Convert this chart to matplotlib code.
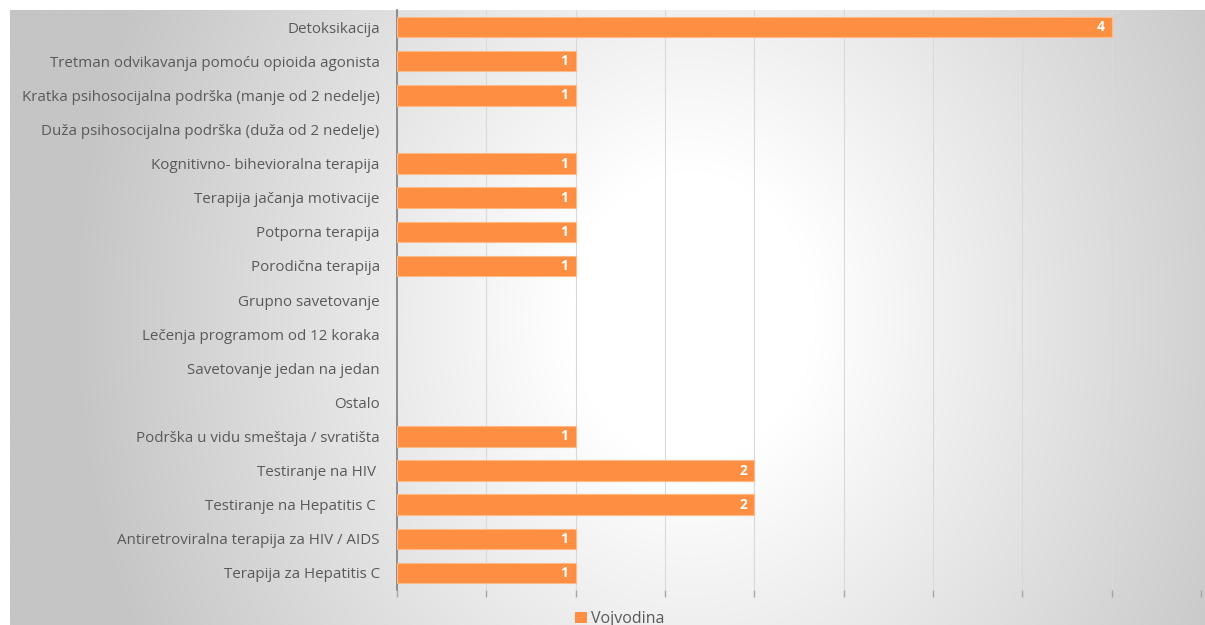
import numpy as np
import matplotlib
matplotlib.use("Agg")
import matplotlib.pyplot as plt
from matplotlib.patches import Patch

categories = [
    "Detoksikacija",
    "Tretman odvikavanja pomoću opioida agonista",
    "Kratka psihosocijalna podrška (manje od 2 nedelje)",
    "Duža psihosocijalna podrška (duža od 2 nedelje)",
    "Kognitivno- bihevioralna terapija",
    "Terapija jačanja motivacije",
    "Potporna terapija",
    "Porodična terapija",
    "Grupno savetovanje",
    "Lečenja programom od 12 koraka",
    "Savetovanje jedan na jedan",
    "Ostalo",
    "Podrška u vidu smeštaja / svratišta",
    "Testiranje na HIV ",
    "Testiranje na Hepatitis C ",
    "Antiretroviralna terapija za HIV / AIDS",
    "Terapija za Hepatitis C",
]
values = [4, 1, 1, None, 1, 1, 1, 1, None, None, None, None, 1, 2, 2, 1, 1]
series_name = "Vojvodina"

W, H = 1205, 625
fig = plt.figure(figsize=(W / 100, H / 100), dpi=100)
fig.patch.set_facecolor("white")

# background gradient panel
bg = fig.add_axes([10 / W, 0, 1 - 10 / W, 1 - 10 / H])
bg.set_axis_off()
nx, ny = 500, 260
xx, yy = np.meshgrid(np.linspace(0, 1, nx), np.linspace(0, 1, ny))
cx, cy = 0.57, 0.5
d = np.sqrt(((xx - cx) / 0.52) ** 2 + ((yy - cy) / 1.2) ** 2)
t = np.clip((d - 0.2) / 0.8, 0, 1)
light = 255 - 58 * t
img = np.dstack([light, light, light]) / 255.0
bg.imshow(img, origin="lower", extent=[0, 1, 0, 1], aspect="auto", interpolation="bilinear")
bg.set_xlim(0, 1)
bg.set_ylim(0, 1)

font = "Open Sans"
ax = fig.add_axes([397 / W, 1 - 590 / H, (1201 - 397) / W, (590 - 10) / H])
ax.patch.set_alpha(0)
n = len(categories)
y = np.arange(n)
color = "#FD8E42"
ys = [yi for yi, v in zip(y, values) if v]
vs = [v for v in values if v]
ax.barh(ys, vs, height=0.6, color=color, edgecolor="#FFB987", linewidth=0.8, zorder=3)
for yi, v in zip(ys, vs):
    ax.text(v - 0.04, yi, str(v), ha="right", va="center", color="white",
            fontsize=10, fontweight="bold", family=font, zorder=4)
ax.set_xlim(0, 4.5)
ax.set_ylim(n - 0.5, -0.5)
ax.set_xticks(np.arange(0, 4.51, 0.5))
ax.set_xticklabels([])
ax.tick_params(axis="x", length=5, color="#A6A6A6", width=1)
ax.grid(axis="x", color="#D9D9D9", linewidth=0.8, zorder=0)
ax.set_yticks(y)
ax.set_yticklabels(categories, family=font, fontsize=10.9, color="#595959")
ax.tick_params(axis="y", length=0, pad=12.5)
for s in ["top", "right", "bottom"]:
    ax.spines[s].set_visible(False)
ax.spines["left"].set_color("#7F7F7F")
ax.spines["left"].set_linewidth(1.2)

fig.legend(handles=[Patch(facecolor=color, label=series_name)],
           loc="center", bbox_to_anchor=(620 / W, 1 - 619 / H), frameon=False,
           prop={"family": font, "size": 11.5}, handlelength=0.7, handleheight=0.7,
           handletextpad=0.3, labelcolor="#595959")

fig.savefig("out.png", dpi=100)
